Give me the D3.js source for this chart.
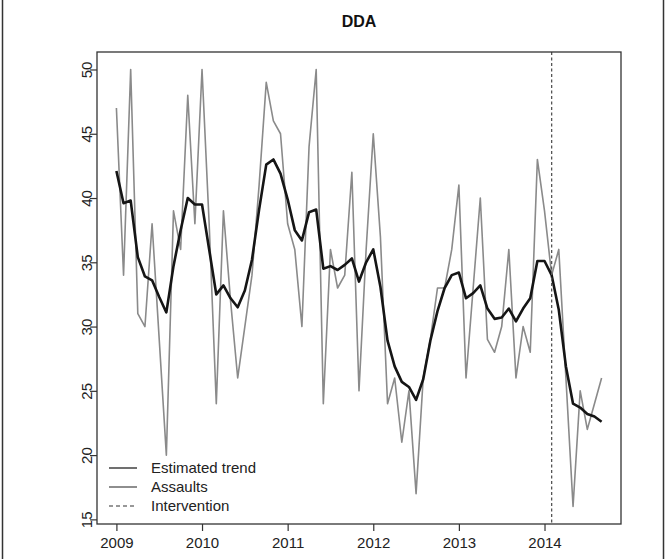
<!DOCTYPE html>
<html>
<head>
<meta charset="utf-8">
<script src="https://cdn.jsdelivr.net/npm/d3@7"></script>
<style>
  body { margin: 0; background: #fff; }
  svg { font-family: "Liberation Sans", Arial, Helvetica, sans-serif; }
</style>
</head>
<body>
<div id="chart"></div>
<script>
// monthly series, Jan 2009 .. Sep 2014
const startYear = 2009;
const assaults = [
  47, 34, 50, 31, 30, 38, 29, 20, 39, 36, 48, 38,
  50, 38, 24, 39, 32, 26, 30, 34, 41, 49, 46, 45,
  38, 36, 30, 44, 50, 24, 36, 33, 34, 42, 25, 36,
  45, 37, 24, 26, 21, 25, 17, 26, 29, 33, 33, 36,
  41, 26, 33, 40, 29, 28, 30, 36, 26, 30, 28, 43,
  39, 34, 36, 26, 16, 25, 22, 24, 26
];
const trend = [
  42.1, 39.6, 39.8, 35.4, 33.9, 33.6, 32.3, 31.1, 34.7, 37.5, 40.0, 39.5,
  39.5, 36.0, 32.5, 33.2, 32.2, 31.5, 32.8, 35.2, 39.1, 42.6, 43.0, 41.9,
  39.9, 37.5, 36.7, 38.9, 39.1, 34.5, 34.7, 34.4, 34.8, 35.3, 33.5, 35.0,
  36.0, 33.1, 28.9, 26.9, 25.7, 25.3, 24.3, 25.9, 28.9, 31.2, 33.0, 34.0,
  34.2, 32.2, 32.6, 33.2, 31.4, 30.6, 30.7, 31.4, 30.4, 31.4, 32.2, 35.1,
  35.1, 34.0, 31.3, 26.9, 24.0, 23.7, 23.2, 23.0, 22.6
];
const interventionMonth = 61; // Feb 2014
const xTicks = [2009, 2010, 2011, 2012, 2013, 2014];
const yTicks = [15, 20, 25, 30, 35, 40, 45, 50];
const legendLabels = ["Estimated trend", "Assaults", "Intervention"];
const title = "DDA";

class TrendChart {
  constructor(_parentElement) {
    this.parentElement = _parentElement;
    this.initVis();
  }

  initVis() {
    const vis = this;

    vis.margin = { top: 52, right: 45, bottom: 35, left: 97 };
    vis.width = 666 - vis.margin.left - vis.margin.right;
    vis.height = 559 - vis.margin.top - vis.margin.bottom;

    vis.root = d3
      .select(vis.parentElement)
      .append("svg")
      .attr("width", 666)
      .attr("height", 559);

    // scanned page edges
    vis.root.append("line").attr("x1", 2.5).attr("x2", 2.5).attr("y1", 0).attr("y2", 559)
      .attr("stroke", "#333").attr("stroke-width", 1.5);
    vis.root.append("line").attr("x1", 663.5).attr("x2", 663.5).attr("y1", 0).attr("y2", 559)
      .attr("stroke", "#333").attr("stroke-width", 1.5);

    vis.svg = vis.root
      .append("g")
      .attr("transform", `translate(${vis.margin.left},${vis.margin.top})`);

    vis.data = assaults.map((d, i) => ({
      t: startYear + i / 12,
      assaults: d,
      trend: trend[i],
    }));

    // R style 4% padding of the data range
    const pad = (ext) => {
      const r = ext[1] - ext[0];
      return [ext[0] - 0.04 * r, ext[1] + 0.04 * r];
    };
    vis.x = d3.scaleLinear()
      .domain(pad(d3.extent(vis.data, (d) => d.t)))
      .range([0, vis.width]);
    vis.y = d3.scaleLinear()
      .domain(pad(d3.extent(assaults)))
      .range([vis.height, 0]);

    vis.updateVis();
    vis.addAxes();
    vis.addLegend();
  }

  updateVis() {
    const vis = this;

    const line = (key) =>
      d3.line().x((d) => vis.x(d.t)).y((d) => vis.y(d[key]));

    vis.svg.append("path")
      .datum(vis.data)
      .attr("fill", "none")
      .attr("stroke", "#8a8a8a")
      .attr("stroke-width", 1.6)
      .attr("stroke-linejoin", "round")
      .attr("d", line("assaults"));

    vis.svg.append("path")
      .datum(vis.data)
      .attr("fill", "none")
      .attr("stroke", "#151515")
      .attr("stroke-width", 2.6)
      .attr("stroke-linejoin", "round")
      .attr("d", line("trend"));

    const xi = vis.x(startYear + interventionMonth / 12);
    vis.svg.append("line")
      .attr("x1", xi).attr("x2", xi)
      .attr("y1", 0).attr("y2", vis.height)
      .attr("stroke", "#555")
      .attr("stroke-width", 1.3)
      .attr("stroke-dasharray", "3,2.5");

    // box
    vis.svg.append("rect")
      .attr("width", vis.width)
      .attr("height", vis.height)
      .attr("fill", "none")
      .attr("stroke", "#333")
      .attr("stroke-width", 1.3);

    vis.root.append("text")
      .attr("x", vis.margin.left + vis.width / 2)
      .attr("y", 27)
      .attr("text-anchor", "middle")
      .style("font-size", "16px")
      .style("font-weight", "bold")
      .attr("fill", "#111")
      .text(title);
  }

  addAxes() {
    const vis = this;

    const xAxis = vis.svg.append("g")
      .attr("transform", `translate(0,${vis.height})`)
      .call(d3.axisBottom(vis.x).tickValues(xTicks).tickFormat(d3.format("d"))
        .tickSizeInner(7).tickSizeOuter(0).tickPadding(6));
    xAxis.select(".domain").remove();
    xAxis.selectAll("line").attr("stroke", "#333").attr("stroke-width", 1.2);
    xAxis.selectAll("text")
      .style("font-size", "15px")
      .attr("fill", "#222");

    const yAxis = vis.svg.append("g")
      .call(d3.axisLeft(vis.y).tickValues(yTicks)
        .tickSizeInner(7).tickSizeOuter(0));
    yAxis.select(".domain").remove();
    yAxis.selectAll("line").attr("stroke", "#333").attr("stroke-width", 1.2);
    yAxis.selectAll("text")
      .attr("x", 0)
      .attr("dy", 0)
      .attr("text-anchor", "middle")
      .attr("transform", "translate(-4,0) rotate(-90)")
      .attr("y", -1)
      .style("font-size", "15px")
      .attr("fill", "#222");
  }

  addLegend() {
    const vis = this;

    const legendArray = [
      { label: legendLabels[0], color: "#111", dash: null },
      { label: legendLabels[1], color: "#444", dash: null },
      { label: legendLabels[2], color: "#333", dash: "4,3" },
    ];

    const legendRow = vis.svg.append("g")
      .attr("transform", "translate(12,416)")
      .selectAll(".legendRow")
      .data(legendArray)
      .enter()
      .append("g")
      .attr("class", "legendRow")
      .attr("transform", (d, i) => `translate(0, ${i * 19})`);

    legendRow.append("line")
      .attr("x1", 0).attr("x2", 28)
      .attr("stroke", (d) => d.color)
      .attr("stroke-width", 1.2)
      .attr("stroke-dasharray", (d) => d.dash);

    legendRow.append("text")
      .attr("x", 42)
      .attr("y", 5)
      .style("font-size", "15px")
      .attr("fill", "#222")
      .text((d) => d.label);
  }
}

const chart = new TrendChart("#chart");
</script>
</body>
</html>
